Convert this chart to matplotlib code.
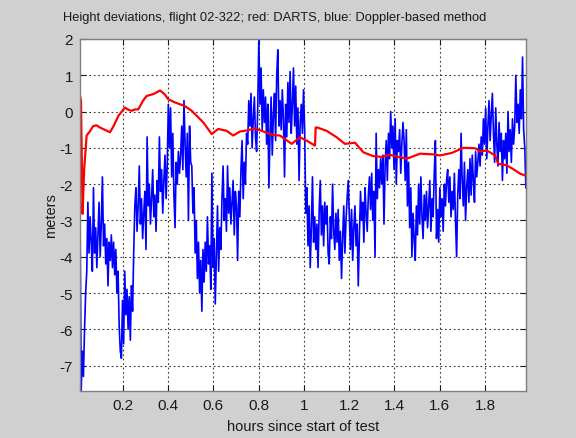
import numpy as np
import matplotlib
matplotlib.use("Agg")
import matplotlib.pyplot as plt

# red: DARTS (hours, meters)
red_t = [0.012, 0.016, 0.020, 0.023, 0.030, 0.041, 0.055, 0.070, 0.085, 0.100,
         0.120, 0.144, 0.160, 0.181, 0.210, 0.225, 0.240, 0.255, 0.269, 0.290,
         0.306, 0.335, 0.365, 0.385, 0.401, 0.431, 0.475, 0.505, 0.556, 0.593,
         0.622, 0.659, 0.688, 0.718, 0.750, 0.784, 0.821, 0.865, 0.894, 0.946,
         0.983, 1.012, 1.049, 1.052, 1.059, 1.100, 1.145, 1.181, 1.226, 1.262,
         1.306, 1.343, 1.380, 1.395, 1.454, 1.513, 1.571, 1.601, 1.653, 1.704,
         1.755, 1.778, 1.807, 1.844, 1.858, 1.895, 1.925, 1.954, 1.980]
red_m = [0.43, 0.30, -1.5, -2.82, -1.6, -0.66, -0.55, -0.40, -0.38, -0.44,
         -0.50, -0.57, -0.40, -0.12, 0.11, 0.05, 0.02, 0.06, 0.06, 0.30,
         0.43, 0.48, 0.58, 0.48, 0.34, 0.25, 0.15, 0.02, -0.30, -0.62,
         -0.48, -0.53, -0.66, -0.55, -0.52, -0.46, -0.55, -0.65, -0.66, -0.89,
         -0.71, -0.80, -0.94, -0.44, -0.44, -0.53, -0.71, -0.89, -0.86, -1.12,
         -1.23, -1.25, -1.19, -1.22, -1.30, -1.16, -1.18, -1.21, -1.14, -1.00,
         -1.01, -1.10, -1.07, -1.21, -1.44, -1.48, -1.59, -1.71, -1.77]

# blue: Doppler-based method (10 samples per ~0.05 h)
blue_m = [
    -2.9, -7.7, -6.6, -7.3, -6.0, -5.0, -4.4, -2.5, -3.9, -2.9,
    -3.6, -4.4, -2.1, -3.9, -3.2, -4.3, -3.4, -2.5, -4.0, -3.1,
    -1.8, -3.7, -3.1, -4.2, -3.5, -4.8, -3.6, -4.1, -3.4, -4.3,
    -3.6, -4.5, -3.8, -5.0, -4.4, -5.9, -6.6, -6.8, -5.2, -6.4,
    -4.4, -5.6, -4.9, -6.0, -5.1, -6.3, -4.8, -5.5, -3.9, -2.6,
    -2.1, -3.3, -2.6, -1.5, -3.1, -2.4, -3.5, -2.8, -2.2, -3.8,
    -0.7, -2.6, -2.0, -3.1, -2.4, -1.6, -2.9, -2.3, -3.3, -1.9,
    -2.5, -0.7, -2.2, -1.6, -2.8, -1.9, -1.2, -2.4, -1.5, 0.2,
    -1.0, 0.1, -1.8, -0.6, -2.3, -3.2, -1.4, -2.0, -1.1, -1.7,
    -1.2, -0.4, -1.6, 0.3, -0.9, -1.8, -0.6, -3.0, -0.4, -1.4,
    -1.5, -2.8, -2.1, -3.9, -3.0, -4.6, -3.6, -5.0, -4.1, -5.5,
    -3.8, -4.7, -3.6, -4.4, -2.9, -4.2, -3.7, -4.9, -1.7, -4.3,
    -3.5, -5.3, -3.9, -2.6, -4.4, -3.2, -3.8, -2.4, -1.5, -3.0,
    -2.4, -3.3, -1.5, -2.8, -2.1, -3.1, -2.5, -1.9, -3.4, -2.2,
    -2.6, -4.1, -2.2, -2.9, -1.6, -0.8, -2.4, -1.4, -2.0, -0.6,
    -0.9, 0.3, -0.4, 0.5, -1.0, -0.2, 0.4, -0.7, -1.1, 0.1,
    2.0, 0.2, 1.2, -0.5, 0.6, -0.3, 0.4, -0.9, 0.2, -2.1,
    -0.6, 0.4, -1.2, -0.1, 0.5, -0.8, 1.0, 1.7, -0.4, 0.3,
    -0.5, 0.6, -0.2, -1.8, 0.2, -0.7, 0.8, -0.3, 1.1, -0.6,
    0.2, 1.2, -0.4, 0.7, -0.9, 0.1, -1.9, -0.3, 0.2, -0.6,
    0.6, -0.5, -2.8, -2.1, -3.7, -2.6, -4.3, -3.2, -1.8, -3.6,
    -2.9, -3.8, -3.1, -4.3, -2.7, -1.9, -3.4, -2.6, -3.7, -2.5,
    -3.1, -2.6, -3.9, -4.2, -2.9, -3.5, -2.0, -3.3, -3.8, -2.8,
    -3.6, -2.7, -4.1, -3.3, -4.6, -3.5, -2.6, -3.9, -3.0, -2.4,
    -1.9, -2.9, -3.8, -2.7, -4.1, -3.2, -2.6, -3.7, -3.1, -4.8,
    -3.4, -2.2, -3.0, -2.5, -3.6, -2.1, -2.8, -3.3, -2.3, -1.8,
    -2.7, -1.7, -3.0, -2.2, -4.0, -0.6, -2.4, -1.6, -2.1, -1.3,
    -2.0, -1.2, -3.1, -1.5, -0.8, -1.9, -0.6, -1.3, 0.0, -1.0,
    -0.4, -1.6, -0.2, -2.0, -0.8, -1.1, -0.5, -1.7, -0.9, -0.3,
    -0.8, -1.9, -0.5, -2.6, -1.4, -3.2, -2.1, -4.0, -2.8, -3.5,
    -4.1, -2.6, -3.4, -2.0, -3.1, -1.8, -2.9, -3.5, -2.3, -3.0,
    -2.2, -3.2, -2.6, -1.9, -3.3, -2.4, -2.9, -1.7, -0.8, -3.5,
    -2.7, -3.6, -2.1, -2.9, -2.4, -3.3, -2.0, -2.6, -1.9, -1.6,
    -2.5, -1.8, -2.9, -2.2, -2.7, -1.7, -3.0, -4.0, -2.3, -1.6,
    -2.4, -0.6, -1.9, -2.6, -1.4, -3.0, -2.1, -1.6, -2.5, -1.3,
    -2.3, -1.2, -1.9, -2.5, -1.1, -1.8, -1.4, -0.9, -1.5, -0.7,
    -1.2, -0.2, -0.9, 0.1, -1.3, -0.4, 0.3, -0.8, -0.1, 0.5,
    -0.6, -1.4, 0.1, -0.9, -1.5, -0.3, -1.1, -0.6, -1.9, -0.8,
    -1.3, -0.6, -1.7, 0.0, -1.1, -0.5, -1.4, -0.2, -0.9, -0.4,
    1.0, -0.3, 0.2, -0.6, 0.6, -0.2, 1.5, -0.5, -1.0, -2.1,
]
# sampling times of the blue series (even spacing over the test)
blue_t = np.linspace(0.012, 1.98, len(blue_m))

x_ticks = [0.2, 0.4, 0.6, 0.8, 1.0, 1.2, 1.4, 1.6, 1.8]
x_labels = ["0.2", "0.4", "0.6", "0.8", "1", "1.2", "1.4", "1.6", "1.8"]
y_ticks = [-7, -6, -5, -4, -3, -2, -1, 0, 1, 2]

plt.rcParams["font.family"] = ["Liberation Sans", "DejaVu Sans"]
plt.rcParams["axes.unicode_minus"] = False

fig = plt.figure(figsize=(5.76, 4.39), dpi=100, facecolor="#d0d0d0")
ax = fig.add_axes([0.139, 0.107, 0.774, 0.802])
ax.set_facecolor("white")

ax.plot(blue_t, blue_m, color="#0000ff", linewidth=1.2)
ax.plot(red_t, red_m, color="#ff0000", linewidth=1.6)

ax.set_xlim(0.012, 1.98)
ax.set_ylim(-7.7, 2)
ax.set_xticks(x_ticks)
ax.set_xticklabels(x_labels)
ax.set_yticks(y_ticks)

ax.grid(True, color="#333333", linestyle=(0, (1.5, 2.5)), linewidth=0.8)
ax.tick_params(direction="in", length=4, top=True, right=True,
               labelsize=11, colors="#1a1a1a", pad=5)
for s in ax.spines.values():
    s.set_color("#808080")
    s.set_linewidth(1.0)

fig.text(0.477, 0.958, "Height deviations, flight 02-322; red: DARTS, blue: Doppler-based method",
         fontsize=9.3, ha="center", va="center", color="#1a1a1a")
ax.set_xlabel("hours since start of test", fontsize=10.5, labelpad=5, color="#1a1a1a")
ax.set_ylabel("meters", fontsize=10.5, labelpad=1, color="#1a1a1a")

fig.savefig("out.png", dpi=100, facecolor=fig.get_facecolor())
